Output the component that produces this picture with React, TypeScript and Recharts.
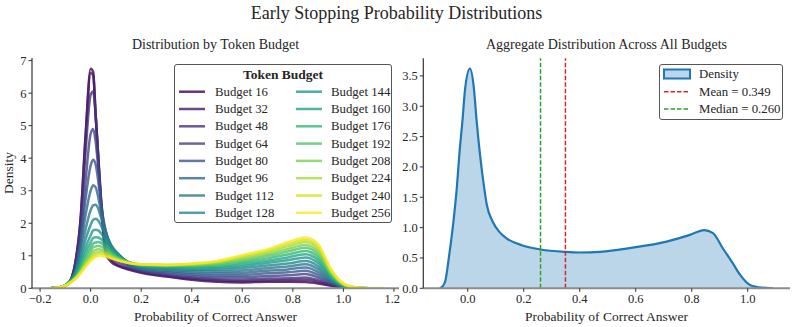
import React from 'react';
import { LineChart, Line, XAxis, YAxis, ComposedChart, Area, ReferenceLine } from 'recharts';

// ---------- Left panel data ----------
const budgets = [16, 32, 48, 64, 80, 96, 112, 128, 144, 160, 176, 192, 208, 224, 240, 256];
const gridX = [-0.16, -0.12, -0.09, -0.06, -0.04, -0.02, 0, 0.01, 0.02, 0.03, 0.04, 0.06, 0.08, 0.11, 0.15, 0.2, 0.3, 0.4, 0.5, 0.6, 0.7, 0.78, 0.85, 0.9, 0.95, 1.0, 1.05, 1.1, 1.16];

const b16 = [0, 0.03, 0.12, 0.8, 2.1, 4.7, 6.75, 6.65, 5.3, 4.0, 2.7, 1.05, 0.82, 0.68, 0.58, 0.48, 0.36, 0.26, 0.2, 0.18, 0.2, 0.2, 0.19, 0.15, 0.08, 0.02, 0, 0, 0];
const b32 = [0, 0.03, 0.13, 0.82, 2.1, 4.65, 6.62, 6.55, 5.3, 4.05, 2.8, 1.15, 0.88, 0.7, 0.6, 0.5, 0.38, 0.29, 0.24, 0.22, 0.24, 0.25, 0.26, 0.2, 0.1, 0.025, 0, 0, 0];
const b48 = [0, 0.03, 0.13, 0.75, 1.95, 4.2, 5.95, 6.05, 5.3, 4.1, 2.9, 1.35, 0.95, 0.78, 0.63, 0.52, 0.41, 0.33, 0.28, 0.27, 0.3, 0.31, 0.33, 0.25, 0.12, 0.03, 0.003, 0, 0];
const b64 = [0, 0.03, 0.13, 0.58, 1.55, 3.3, 4.75, 4.9, 4.5, 3.7, 2.8, 1.6, 1.15, 0.9, 0.68, 0.55, 0.45, 0.38, 0.34, 0.34, 0.38, 0.4, 0.44, 0.33, 0.15, 0.035, 0.005, 0, 0];
const b80 = [0, 0.03, 0.14, 0.57, 1.45, 2.75, 3.77, 3.95, 3.8, 3.3, 2.65, 1.75, 1.3, 1.0, 0.72, 0.58, 0.49, 0.43, 0.4, 0.41, 0.46, 0.49, 0.54, 0.41, 0.18, 0.04, 0.006, 0, 0];
const b96 = [0, 0.03, 0.15, 0.55, 1.27, 2.25, 3.0, 3.17, 3.1, 2.8, 2.4, 1.75, 1.3, 1.05, 0.76, 0.61, 0.53, 0.48, 0.46, 0.48, 0.54, 0.58, 0.64, 0.5, 0.21, 0.05, 0.008, 0, 0];
const b112 = [0, 0.03, 0.16, 0.5, 1.07, 1.82, 2.4, 2.55, 2.57, 2.45, 2.2, 1.7, 1.35, 1.05, 0.78, 0.64, 0.57, 0.53, 0.52, 0.55, 0.62, 0.67, 0.74, 0.59, 0.25, 0.06, 0.01, 0, 0];
const b128 = [0, 0.03, 0.16, 0.46, 0.93, 1.5, 1.95, 2.1, 2.14, 2.08, 1.95, 1.6, 1.3, 1.03, 0.8, 0.66, 0.6, 0.57, 0.57, 0.62, 0.7, 0.76, 0.84, 0.68, 0.29, 0.07, 0.012, 0.001, 0];
const b144 = [0, 0.03, 0.15, 0.42, 0.8, 1.26, 1.63, 1.78, 1.8, 1.78, 1.7, 1.48, 1.24, 1.0, 0.8, 0.68, 0.63, 0.61, 0.62, 0.68, 0.78, 0.86, 0.95, 0.78, 0.33, 0.08, 0.014, 0.001, 0];
const b160 = [0, 0.03, 0.15, 0.39, 0.71, 1.1, 1.41, 1.55, 1.57, 1.56, 1.52, 1.36, 1.17, 0.97, 0.8, 0.7, 0.66, 0.65, 0.66, 0.74, 0.85, 0.95, 1.05, 0.87, 0.37, 0.09, 0.016, 0.002, 0];
const b176 = [0, 0.03, 0.14, 0.36, 0.63, 0.97, 1.25, 1.38, 1.41, 1.42, 1.4, 1.28, 1.12, 0.94, 0.8, 0.71, 0.68, 0.68, 0.7, 0.8, 0.92, 1.04, 1.15, 0.96, 0.41, 0.1, 0.018, 0.002, 0];
const b192 = [0, 0.03, 0.13, 0.33, 0.57, 0.87, 1.12, 1.26, 1.29, 1.3, 1.29, 1.2, 1.07, 0.92, 0.8, 0.72, 0.7, 0.7, 0.74, 0.85, 0.99, 1.13, 1.25, 1.05, 0.45, 0.11, 0.02, 0.003, 0];
const b208 = [0, 0.03, 0.13, 0.32, 0.53, 0.8, 1.03, 1.13, 1.18, 1.2, 1.19, 1.12, 1.02, 0.9, 0.79, 0.73, 0.71, 0.72, 0.77, 0.9, 1.05, 1.21, 1.33, 1.13, 0.49, 0.12, 0.022, 0.003, 0];
const b224 = [0, 0.03, 0.13, 0.31, 0.5, 0.74, 0.95, 1.04, 1.09, 1.11, 1.12, 1.07, 0.98, 0.88, 0.79, 0.735, 0.72, 0.74, 0.8, 0.95, 1.11, 1.29, 1.42, 1.22, 0.53, 0.13, 0.025, 0.004, 0];
const b240 = [0, 0.03, 0.12, 0.3, 0.48, 0.7, 0.89, 0.97, 1.02, 1.05, 1.06, 1.02, 0.95, 0.86, 0.78, 0.74, 0.72, 0.75, 0.82, 0.99, 1.16, 1.36, 1.49, 1.29, 0.57, 0.14, 0.027, 0.004, 0];
const b256 = [0, 0.03, 0.12, 0.3, 0.46, 0.66, 0.84, 0.91, 0.96, 0.99, 1.0, 0.97, 0.92, 0.85, 0.78, 0.74, 0.72, 0.76, 0.84, 1.02, 1.2, 1.42, 1.56, 1.36, 0.6, 0.15, 0.03, 0.005, 0];

const budgetSeries = [b16, b32, b48, b64, b80, b96, b112, b128, b144, b160, b176, b192, b208, b224, b240, b256];
const viridis = ['#440154', '#481a6c', '#472f7d', '#414487', '#39568c', '#31688e', '#2a788e', '#23888e', '#1f988b', '#22a884', '#35b779', '#54c568', '#7ad151', '#a5db36', '#d2e21b', '#fde725'];

const leftXTicks = [-0.2, 0, 0.2, 0.4, 0.6, 0.8, 1.0, 1.2];
const leftYTicks = [0, 1, 2, 3, 4, 5, 6, 7];

// ---------- Right panel data ----------
const aggX = [-0.1, -0.09, -0.08, -0.066, -0.051, -0.039, -0.03, -0.019, -0.009, 0.008, 0.022, 0.032, 0.044, 0.059, 0.068, 0.089, 0.113, 0.14, 0.193, 0.26, 0.349, 0.4, 0.473, 0.59, 0.71, 0.794, 0.844, 0.876, 0.911, 0.947, 0.973, 1.01, 1.05, 1.09];
const aggY = [0, 0.03, 0.12, 0.55, 1.1, 1.65, 2.2, 2.75, 3.3, 3.62, 3.3, 2.75, 2.2, 1.65, 1.38, 1.1, 0.93, 0.82, 0.71, 0.64, 0.6, 0.59, 0.6, 0.67, 0.77, 0.88, 0.96, 0.91, 0.66, 0.41, 0.22, 0.05, 0.01, 0];
const meanVal = 0.349;
const medianVal = 0.26;
const rightXTicks = [0, 0.2, 0.4, 0.6, 0.8, 1.0];
const rightYTicks = [0, 0.5, 1.0, 1.5, 2.0, 2.5, 3.0, 3.5];

const leftData = gridX.map((x, j) => {
  const row: any = { x };
  budgets.forEach((b, i) => {
    row['b' + b] = budgetSeries[i][j];
  });
  return row;
});
const rightData = aggX.map((x, j) => ({ x, y: aggY[j] }));

const FONT = "'Liberation Serif', 'Times New Roman', 'DejaVu Serif', serif";
const TXT = '#262626';
const fmt = (v: number) => (v < 0 ? '\u2212' + Math.abs(v).toFixed(1) : v.toFixed(1));

const tickStyle = { fontFamily: FONT, fontSize: 12.5, fill: TXT };

const abs = (left: number, top: number, extra: any = {}) => ({
  position: 'absolute' as const,
  left,
  top,
  ...extra,
});

const centerText = (x: number, y: number, text: string, size: number, extra: any = {}) => (
  <div
    style={{
      position: 'absolute',
      left: x,
      top: y,
      transform: 'translate(-50%, -50%)',
      fontFamily: FONT,
      fontSize: size,
      color: TXT,
      whiteSpace: 'nowrap',
      lineHeight: 1,
      ...extra,
    }}
  >
    {text}
  </div>
);

const legendText = (x: number, y: number, text: string) => (
  <div style={abs(x, y, { transform: 'translateY(-50%)', fontFamily: FONT, fontSize: 12.8, color: TXT, whiteSpace: 'nowrap', lineHeight: 1 })}>
    {text}
  </div>
);

export default function App() {
  const rowY = (k: number) => 91.7 + k * 17.3;
  return (
    <div style={{ position: 'absolute', left: 0, top: 0, width: 793, height: 327, background: '#fff', overflow: 'hidden', fontFamily: FONT }}>
      {centerText(396.5, 13, 'Early Stopping Probability Distributions', 18)}
      {centerText(215.5, 45, 'Distribution by Token Budget', 14)}
      {centerText(606.5, 45, 'Aggregate Distribution Across All Budgets', 14)}

      <div style={abs(0, 0)}>
        <LineChart width={400} height={327} data={leftData} margin={{ top: 58, right: 1, bottom: 8.7, left: 0 }}>
          <XAxis
            type="number"
            dataKey="x"
            domain={[-0.232, 1.22]}
            ticks={leftXTicks}
            tickFormatter={fmt}
            allowDataOverflow
            height={30}
            tick={tickStyle}
            tickSize={3.5}
            tickMargin={2}
            axisLine={{ stroke: '#8c8c8c', strokeWidth: 2 }}
            tickLine={{ stroke: '#333' }}
          />
          <YAxis
            type="number"
            domain={[0, 7.08]}
            ticks={leftYTicks}
            allowDataOverflow
            width={32}
            tick={tickStyle}
            tickSize={3.5}
            tickMargin={2}
            axisLine={{ stroke: '#333', strokeWidth: 1.2 }}
            tickLine={{ stroke: '#333' }}
          />
          {budgets.map((b, i) => (
            <Line
              key={b}
              type="monotone"
              dataKey={'b' + b}
              stroke={viridis[i]}
              strokeOpacity={0.8}
              strokeWidth={2.5}
              dot={false}
              isAnimationActive={false}
            />
          ))}
        </LineChart>
      </div>

      <div style={abs(400, 0)}>
        <ComposedChart width={393} height={327} data={rightData} margin={{ top: 58.3, right: 3, bottom: 8.7, left: 0 }}>
          <XAxis
            type="number"
            dataKey="x"
            domain={[-0.1586, 1.151]}
            ticks={rightXTicks}
            tickFormatter={fmt}
            allowDataOverflow
            height={30}
            tick={tickStyle}
            tickSize={3.5}
            tickMargin={2}
            axisLine={{ stroke: '#8c8c8c', strokeWidth: 2 }}
            tickLine={{ stroke: '#333' }}
          />
          <YAxis
            type="number"
            domain={[0, 3.79]}
            ticks={rightYTicks}
            tickFormatter={(v: number) => v.toFixed(1)}
            allowDataOverflow
            width={23.3}
            tick={tickStyle}
            tickSize={3.5}
            tickMargin={2}
            axisLine={{ stroke: '#333', strokeWidth: 1.2 }}
            tickLine={{ stroke: '#333' }}
          />
          <Area
            type="monotone"
            dataKey="y"
            stroke="#1f77b4"
            strokeWidth={2.2}
            fill="#1f77b4"
            fillOpacity={0.3}
            dot={false}
            activeDot={false}
            isAnimationActive={false}
          />
          <ReferenceLine x={medianVal} stroke="#2ca02c" strokeDasharray="4.5 2" strokeWidth={1.5} />
          <ReferenceLine x={meanVal} stroke="#d62728" strokeDasharray="4.5 2" strokeWidth={1.5} />
        </ComposedChart>
      </div>

      {centerText(215.5, 316.5, 'Probability of Correct Answer', 13.5)}
      {centerText(606.5, 316.5, 'Probability of Correct Answer', 13.5)}
      {centerText(9, 173, 'Density', 13.5, { transform: 'translate(-50%, -50%) rotate(-90deg)' })}

      {/* Left legend */}
      <div
        style={abs(174, 64, {
          width: 218,
          height: 159,
          border: '1px solid #555',
          borderRadius: 3,
          background: 'rgba(255,255,255,0.85)',
          boxSizing: 'border-box',
        })}
      />
      {centerText(283, 75, 'Token Budget', 13.5, { fontWeight: 'bold' })}
      <svg style={abs(0, 0)} width={793} height={327}>
        {budgets.map((b, i) => {
          const col = i < 8 ? 0 : 1;
          const k = i % 8;
          const lx = col === 0 ? 179 : 296;
          const y = rowY(k);
          return <line key={'ll' + b} x1={lx} x2={lx + 26} y1={y} y2={y} stroke={viridis[i]} strokeOpacity={0.8} strokeWidth={2.5} />;
        })}
      </svg>
      {budgets.map((b, i) => {
        const col = i < 8 ? 0 : 1;
        const k = i % 8;
        const tx = col === 0 ? 215 : 331;
        return <React.Fragment key={'lt' + b}>{legendText(tx, rowY(k), 'Budget ' + b)}</React.Fragment>;
      })}

      {/* Right legend */}
      <div
        style={abs(659, 64, {
          width: 124,
          height: 56,
          border: '1px solid #555',
          borderRadius: 3,
          background: 'rgba(255,255,255,0.85)',
          boxSizing: 'border-box',
        })}
      />
      <svg style={abs(0, 0)} width={793} height={327}>
        <rect x={664} y={69.5} width={26} height={9} fill="#1f77b4" fillOpacity={0.3} stroke="#1f77b4" strokeWidth={2} />
        <line x1={664} x2={690} y1={91.7} y2={91.7} stroke="#d62728" strokeWidth={1.5} strokeDasharray="4.5 2" />
        <line x1={664} x2={690} y1={109} y2={109} stroke="#2ca02c" strokeWidth={1.5} strokeDasharray="4.5 2" />
      </svg>
      {legendText(699, 74, 'Density')}
      {legendText(699, 91.7, 'Mean = ' + meanVal.toFixed(3))}
      {legendText(699, 109, 'Median = ' + medianVal.toFixed(3))}
    </div>
  );
}
